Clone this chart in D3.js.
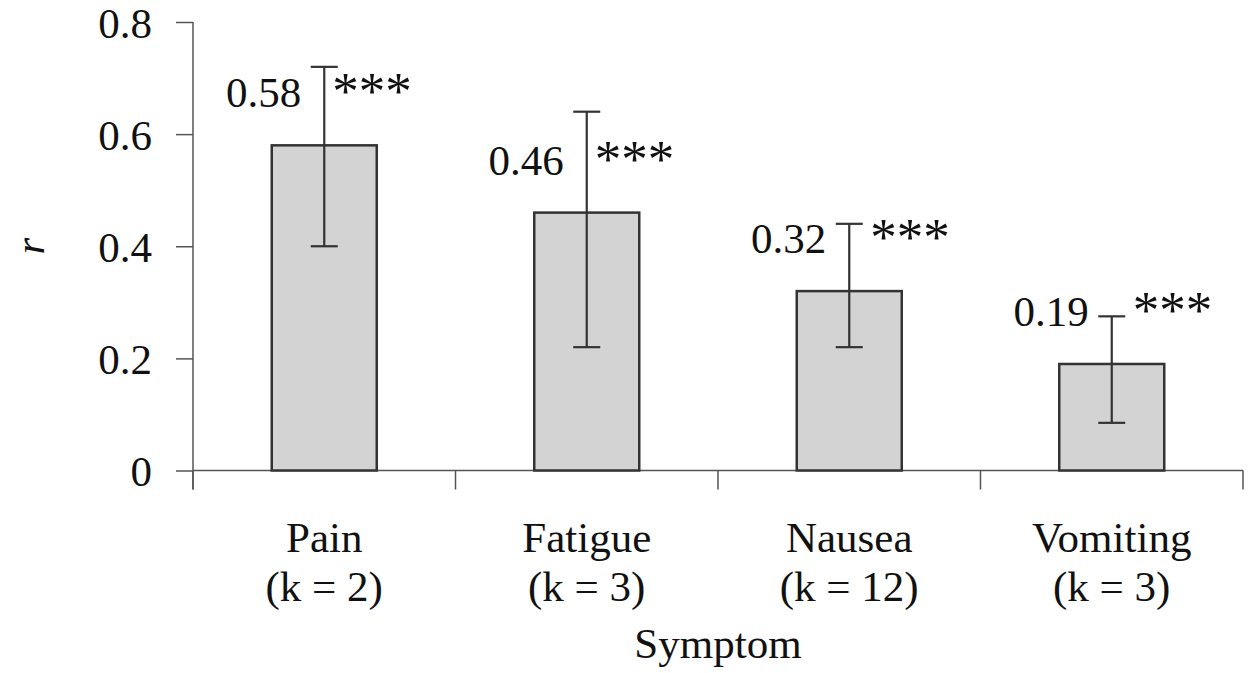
<!DOCTYPE html>
<html>
<head>
<meta charset="utf-8">
<script src="https://cdn.jsdelivr.net/npm/d3@7"></script>
<style>
  html, body { margin: 0; padding: 0; background: #fff; }
  svg text { font-family: "Liberation Serif", "Times New Roman", serif; fill: #111; }
</style>
</head>
<body>
<svg id="chart" width="1248" height="673"></svg>
<script>
// Effect sizes (r) by symptom, with confidence limits
const symptoms = ["Pain", "Fatigue", "Nausea", "Vomiting"];
const studyCounts = ["(k = 2)", "(k = 3)", "(k = 12)", "(k = 3)"];
const rValues = [0.58, 0.46, 0.32, 0.19];
const ciLower = [0.40, 0.22, 0.22, 0.085];
const ciUpper = [0.72, 0.64, 0.44, 0.275];
const significance = ["***", "***", "***", "***"];
const yTickValues = [0, 0.2, 0.4, 0.6, 0.8];
const yTickLabels = ["0", "0.2", "0.4", "0.6", "0.8"];

const svg = d3.select("#chart");
const plotLeft = 193, plotRight = 1243, plotTop = 22, plotBottom = 470.5;
const fontSize = 43;

const x = d3.scaleBand()
  .domain(symptoms)
  .range([plotLeft, plotRight])
  .paddingInner(0.6)
  .paddingOuter(0.3);

const y = d3.scaleLinear().domain([0, 0.8]).range([plotBottom, plotTop]);

const axisColor = "#555";
const tickLen = 17;

// Y axis
const yAxis = svg.append("g").attr("transform", `translate(${plotLeft},0)`)
  .call(d3.axisLeft(y).tickValues(yTickValues)
    .tickFormat((d, i) => yTickLabels[i]).tickSize(tickLen).tickPadding(24));
yAxis.select(".domain").remove();
yAxis.selectAll(".tick line").attr("stroke", axisColor).attr("stroke-width", 1.5);
yAxis.selectAll(".tick text")
  .attr("font-size", fontSize).attr("font-family", "Liberation Serif")
  .attr("fill", "#111").attr("dy", "0.36em");
svg.append("line")
  .attr("x1", plotLeft).attr("x2", plotLeft).attr("y1", plotTop).attr("y2", plotBottom + tickLen + 2)
  .attr("stroke", axisColor).attr("stroke-width", 1.5);

// X axis baseline with ticks at category boundaries
svg.append("line")
  .attr("x1", plotLeft).attr("x2", plotRight).attr("y1", plotBottom).attr("y2", plotBottom)
  .attr("stroke", axisColor).attr("stroke-width", 1.5);
const boundaries = d3.range(symptoms.length + 1).map(i => plotLeft + i * x.step());
svg.append("g").selectAll("line").data(boundaries).join("line")
  .attr("x1", d => d).attr("x2", d => d)
  .attr("y1", plotBottom).attr("y2", plotBottom + tickLen + 2)
  .attr("stroke", axisColor).attr("stroke-width", 1.5);

// Bars
svg.append("g").selectAll("rect").data(symptoms).join("rect")
  .attr("x", d => x(d))
  .attr("y", (d, i) => y(rValues[i]))
  .attr("width", x.bandwidth())
  .attr("height", (d, i) => y(0) - y(rValues[i]))
  .attr("fill", "#d3d3d3")
  .attr("stroke", "#333")
  .attr("stroke-width", 2.5);

// Error bars
const capHalf = 13.5;
const eb = svg.append("g").attr("stroke", "#333").attr("stroke-width", 2.2);
symptoms.forEach((s, i) => {
  const cx = x(s) + x.bandwidth() / 2;
  eb.append("line").attr("x1", cx).attr("x2", cx)
    .attr("y1", y(ciLower[i])).attr("y2", y(ciUpper[i]));
  [ciLower[i], ciUpper[i]].forEach(v => {
    eb.append("line").attr("x1", cx - capHalf).attr("x2", cx + capHalf)
      .attr("y1", y(v)).attr("y2", y(v));
  });
});

// Value labels and significance stars
symptoms.forEach((s, i) => {
  const cx = x(s) + x.bandwidth() / 2;
  const baseline = y(rValues[i]) - 38;
  svg.append("text")
    .attr("x", cx - 23).attr("y", baseline)
    .attr("text-anchor", "end").attr("font-size", fontSize)
    .text(rValues[i].toFixed(2));
  // stars move clear of the upper cap when it sits at their height
  const capY = y(ciUpper[i]);
  const shift = capY >= baseline - 36 ? 21 : 8;
  svg.append("text")
    .attr("x", cx + shift).attr("y", baseline + 2)
    .attr("font-size", 53)
    .text(significance[i]);
});

// Category labels
const catG = svg.append("g");
symptoms.forEach((s, i) => {
  const cx = x(s) + x.bandwidth() / 2;
  catG.append("text").attr("x", cx).attr("y", 552)
    .attr("text-anchor", "middle").attr("font-size", fontSize).text(s);
  catG.append("text").attr("x", cx).attr("y", 601)
    .attr("text-anchor", "middle").attr("font-size", fontSize).text(studyCounts[i]);
});

// Axis titles
svg.append("text")
  .attr("x", (plotLeft + plotRight) / 2).attr("y", 658)
  .attr("text-anchor", "middle").attr("font-size", fontSize).text("Symptom");
svg.append("text")
  .attr("transform", `translate(44,${(plotTop + plotBottom) / 2}) rotate(-90)`)
  .attr("text-anchor", "middle").attr("font-size", fontSize)
  .attr("font-style", "italic").text("r");
</script>
</body>
</html>
